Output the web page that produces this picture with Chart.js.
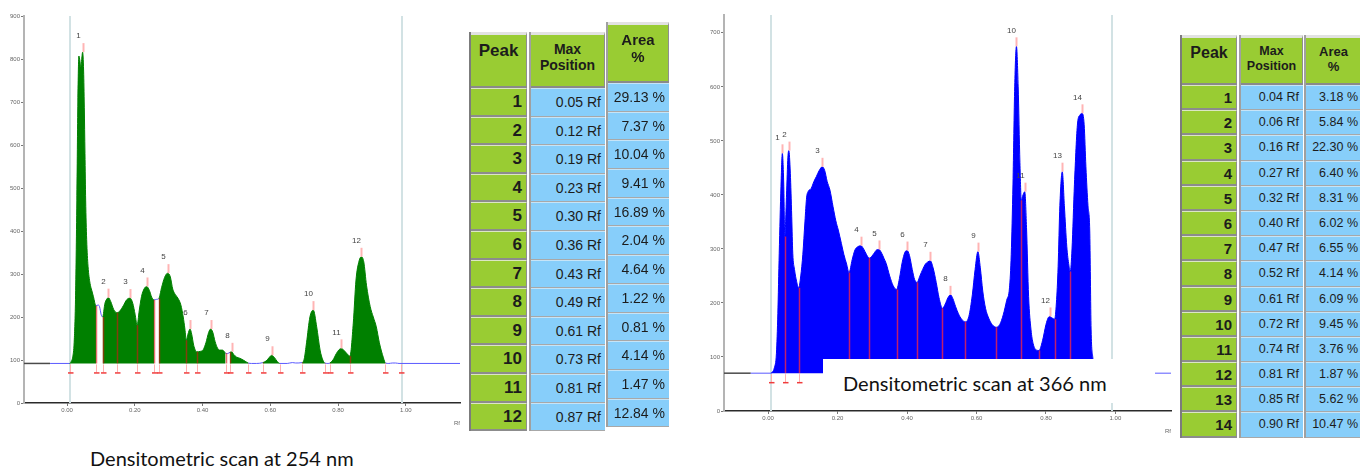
<!DOCTYPE html>
<html lang="en">
<head>
<meta charset="UTF-8">
<title>Densitometric scans</title>
<script src="https://cdn.jsdelivr.net/npm/chart.js"></script>
<style>
    body { margin: 0; width: 1360px; height: 468px; overflow: hidden; background: #fff; position: relative; }
    canvas { position: absolute; }
    .col { position: absolute; font-family: "Liberation Sans", Arial, sans-serif; color: #1c1c1c; }
    .col div { box-sizing: border-box; overflow: hidden; white-space: nowrap; }
    .hd { background: #99cc33; font-weight: bold; text-align: center; border-top: 3px solid #e2e2e2;
          border-bottom: 2px solid #8a8a8a; border-right: 1px solid #8f8f8f; }
    .g { background: #99cc33; font-weight: bold; text-align: right; padding-right: 4px;
         border-top: 1px solid #dbe6c4; border-bottom: 2px solid #8c8c8c; border-right: 1px solid #8f8f8f; }
    .b { background: #87cefa; text-align: right; padding-right: 4px;
         border-top: 1px solid #c6e4f7; border-bottom: 1px solid #a8a8a8; }
    .peak { border-left: 2px solid #7c7c7c; }
    .pos, .area { border-left: 2px solid #a0a0a0; }
    .caption { position: absolute; font-family: Lato, "Open Sans", sans-serif; font-size: 20px; color: #111; white-space: nowrap; }
    #box366 { position: absolute; left: 823px; top: 359px; width: 332px; height: 44px; background: #fff; }
</style>
</head>
<body>

<canvas id="scan254" width="470" height="427" style="left:0;top:0"></canvas>
<canvas id="scan366" width="480" height="435" style="left:700px;top:0"></canvas>
<div id="box366"></div>
<div class="caption" style="left:90px;top:446px">Densitometric scan at 254 nm</div>
<div class="caption" style="left:843px;top:371px">Densitometric scan at 366 nm</div>
<div id="tables"></div>

<script>
    // ---- scan at 254 nm ----
    const rf254 = [-0.05, 0.000, 0.008, 0.012, 0.017, 0.021, 0.025, 0.029, 0.032, 0.035, 0.038, 0.041, 0.044, 0.046,
        0.049, 0.051, 0.053, 0.055, 0.058, 0.062, 0.068, 0.073, 0.078, 0.0855, 0.092, 0.096, 0.101, 0.105, 0.112,
        0.116, 0.122, 0.129, 0.138, 0.147, 0.156, 0.166, 0.176, 0.186, 0.194, 0.201, 0.207, 0.213, 0.220, 0.228,
        0.235, 0.243, 0.250, 0.257, 0.264, 0.271, 0.279, 0.288, 0.297, 0.305, 0.312, 0.319, 0.328, 0.336, 0.343,
        0.348, 0.352, 0.357, 0.363, 0.368, 0.374, 0.383, 0.393, 0.402, 0.410, 0.418, 0.424, 0.430, 0.437, 0.444,
        0.451, 0.459, 0.468, 0.474, 0.481, 0.486, 0.492, 0.500, 0.510, 0.520, 0.528, 0.535, 0.545, 0.560, 0.578,
        0.588, 0.596, 0.604, 0.612, 0.620, 0.628, 0.650, 0.665, 0.675, 0.694, 0.700, 0.707, 0.717, 0.727, 0.737,
        0.747, 0.755, 0.761, 0.770, 0.776, 0.785, 0.795, 0.803, 0.810, 0.818, 0.826, 0.835, 0.845, 0.853, 0.862,
        0.869, 0.876, 0.884, 0.895, 0.904, 0.913, 0.922, 0.934, 0.940, 0.950, 0.960, 0.970, 0.980, 1.160];
    const au254 = [92, 92, 92, 96, 108, 140, 240, 470, 700, 807, 796, 781, 805, 816,
        772, 688, 580, 472, 380, 318, 278, 262, 247, 226, 228, 224, 205, 200, 232,
        240, 245, 236, 217, 210, 214, 226, 240, 244, 232, 206, 181, 214, 248, 266,
        271, 262, 246, 240, 241, 243, 268, 292, 302, 293, 265, 253, 243, 228, 200,
        172, 146, 160, 172, 160, 134, 119, 120, 124, 140, 164, 172, 165, 143, 128,
        123, 123, 116, 115, 118, 119, 113, 107, 104, 100, 96, 93, 92, 92, 94,
        98, 105, 111, 106, 97, 92, 92, 94, 93, 94, 102, 140, 200, 216, 177,
        123, 100, 93, 92, 93, 100, 115, 124, 127, 122, 115, 109, 186, 286, 330,
        340, 328, 274, 224, 200, 177, 140, 105, 93, 92, 93, 93, 92, 92];
    const base254 = 92;
    const fill254 = [[0.008, 0.0855], [0.105, 0.257], [0.271, 0.468], [0.481, 0.535], [0.578, 0.628], [0.694, 0.761], [0.776, 0.940]];
    const bound254 = [0.0855, 0.105, 0.147, 0.207, 0.257, 0.271, 0.352, 0.383, 0.468, 0.481, 0.535, 0.578, 0.628, 0.694, 0.761, 0.776, 0.835, 0.940];
    const boundTop254 = [226, 200, 210, 181, 240, 243, 146, 119, 116, 118, 93, 94, 92, 94, 93, 93, 109, 93];
    const marks254 = [0.009, ...bound254, 0.987];
    const peakRf254 = [0.046, 0.122, 0.186, 0.235, 0.297, 0.363, 0.424, 0.486, 0.604, 0.727, 0.810, 0.869];
    const peakTop254 = [816, 245, 244, 271, 302, 172, 172, 119, 111, 216, 127, 340];
    const yTicks254 = [0, 100, 200, 300, 400, 500, 600, 700, 800, 900];

    const peakNo254 = [1, 2, 3, 4, 5, 6, 7, 8, 9, 10, 11, 12];
    const maxPos254 = [0.05, 0.12, 0.19, 0.23, 0.30, 0.36, 0.43, 0.49, 0.61, 0.73, 0.81, 0.87];
    const area254 = [29.13, 7.37, 10.04, 9.41, 16.89, 2.04, 4.64, 1.22, 0.81, 4.14, 1.47, 12.84];

    // ---- scan at 366 nm ----
    const rf366 = [-0.05, 0.008, 0.012, 0.018, 0.024, 0.028, 0.032, 0.037, 0.041, 0.045, 0.048, 0.053, 0.057, 0.0596,
        0.064, 0.068, 0.071, 0.076, 0.082, 0.088, 0.094, 0.100, 0.106, 0.111, 0.115, 0.124, 0.132, 0.139, 0.147,
        0.156, 0.163, 0.170, 0.178, 0.187, 0.195, 0.202, 0.211, 0.218, 0.226, 0.233, 0.242, 0.250, 0.258, 0.267,
        0.275, 0.283, 0.291, 0.298, 0.305, 0.312, 0.319, 0.327, 0.334, 0.340, 0.350, 0.360, 0.370, 0.378, 0.386,
        0.394, 0.400, 0.407, 0.415, 0.422, 0.429, 0.437, 0.445, 0.453, 0.460, 0.467, 0.475, 0.484, 0.492, 0.502,
        0.510, 0.518, 0.525, 0.532, 0.540, 0.548, 0.557, 0.568, 0.578, 0.588, 0.596, 0.604, 0.611, 0.618, 0.626,
        0.635, 0.645, 0.657, 0.667, 0.677, 0.687, 0.695, 0.700, 0.705, 0.710, 0.715, 0.720, 0.725, 0.729, 0.734,
        0.739, 0.744, 0.750, 0.757, 0.763, 0.770, 0.780, 0.790, 0.800, 0.806, 0.811, 0.818, 0.825, 0.830, 0.835,
        0.840, 0.847, 0.853, 0.860, 0.866, 0.870, 0.875, 0.882, 0.891, 0.898, 0.904, 0.910, 0.915, 0.921, 0.926,
        0.930, 0.935, 0.940, 0.950, 1.160];
    const au366 = [70, 70, 72, 80, 107, 180, 292, 415, 477, 420, 323, 400, 470, 482,
        440, 360, 292, 262, 240, 228, 250, 290, 350, 396, 406, 412, 425, 434, 445,
        452, 445, 425, 409, 378, 352, 335, 310, 290, 272, 256, 280, 298, 304, 306,
        300, 290, 283, 286, 292, 298, 299, 292, 282, 273, 250, 232, 225, 245, 275,
        294, 297, 288, 262, 243, 238, 250, 262, 272, 276, 278, 265, 238, 210, 190,
        198, 210, 215, 208, 193, 180, 170, 165, 175, 215, 262, 295, 265, 222, 190,
        172, 160, 155, 160, 178, 205, 228, 290, 420, 600, 675, 600, 460, 390, 400,
        406, 340, 212, 150, 125, 114, 112, 130, 160, 172, 175, 172, 170, 200, 267,
        380, 443, 380, 304, 270, 258, 300, 420, 533, 548, 551, 530, 452, 380, 335,
        150, 98, 72, 70, 70];
    const base366 = 70;
    const fill366 = [[0.008, 0.940]];
    const bound366 = [0.048, 0.088, 0.233, 0.291, 0.370, 0.429, 0.502, 0.568, 0.657, 0.729, 0.780, 0.825, 0.870];
    const boundTop366 = [323, 228, 256, 283, 225, 238, 190, 165, 155, 390, 112, 170, 258];
    const marks366 = [0.008, ...bound366, 0.940, 0.990];
    const peakRf366 = [0.041, 0.0596, 0.156, 0.267, 0.319, 0.400, 0.467, 0.525, 0.604, 0.715, 0.739, 0.811, 0.847, 0.904];
    const peakTop366 = [477, 482, 452, 306, 299, 297, 278, 215, 295, 675, 406, 175, 443, 551];
    const yTicks366 = [0, 100, 200, 300, 400, 500, 600, 700];

    const peakNo366 = [1, 2, 3, 4, 5, 6, 7, 8, 9, 10, 11, 12, 13, 14];
    const maxPos366 = [0.04, 0.06, 0.16, 0.27, 0.32, 0.40, 0.47, 0.52, 0.61, 0.72, 0.74, 0.81, 0.85, 0.90];
    const area366 = [3.18, 5.84, 22.30, 6.40, 8.31, 6.02, 6.55, 4.14, 6.09, 9.45, 3.76, 1.87, 5.62, 10.47];

    const xTicks = [0, 0.2, 0.4, 0.6, 0.8, 1.0];
    const frameRf = [0.009, 0.99];

    // draws the track limits, peak boundaries, boundary markers and peak numbers
    const scanMarks = {
        id: 'scanMarks',
        beforeDatasetsDraw(chart, args, o) {
            const {ctx, chartArea: a, scales: {x}} = chart;
            ctx.save();
            ctx.strokeStyle = '#d2e2e4';
            ctx.lineWidth = 2;
            o.frame.forEach(v => {
                const px = Math.round(x.getPixelForValue(v));
                ctx.beginPath(); ctx.moveTo(px, a.top); ctx.lineTo(px, a.bottom); ctx.stroke();
            });
            ctx.restore();
        },
        afterDatasetsDraw(chart, args, o) {
            const {ctx, scales: {x, y}} = chart;
            const y0 = y.getPixelForValue(o.baseline);
            ctx.save();
            ctx.strokeStyle = o.boundColor;
            ctx.lineWidth = 1.5;
            o.bounds.forEach((v, i) => {
                const px = Math.round(x.getPixelForValue(v)) + 0.5;
                ctx.beginPath(); ctx.moveTo(px, y0); ctx.lineTo(px, y.getPixelForValue(o.boundTops[i])); ctx.stroke();
            });
            o.marks.forEach(v => {
                const px = Math.round(x.getPixelForValue(v)) + 0.5;
                ctx.strokeStyle = '#ffb0b0'; ctx.lineWidth = 1;
                ctx.beginPath(); ctx.moveTo(px, y0 + 1); ctx.lineTo(px, y0 + 9); ctx.stroke();
                ctx.strokeStyle = '#f03c3c'; ctx.lineWidth = 1.5;
                ctx.beginPath(); ctx.moveTo(px - 2.5, y0 + 9.5); ctx.lineTo(px + 3, y0 + 9.5); ctx.stroke();
            });
            ctx.font = '8px "Liberation Sans", Arial';
            ctx.textAlign = 'center';
            ctx.textBaseline = 'middle';
            o.peaks.forEach((v, i) => {
                const px = Math.round(x.getPixelForValue(v)) + 0.5;
                const py = y.getPixelForValue(o.peakTops[i]);
                ctx.strokeStyle = '#ffb4b4'; ctx.lineWidth = 2;
                ctx.beginPath(); ctx.moveTo(px, py); ctx.lineTo(px, py - 9); ctx.stroke();
                ctx.fillStyle = '#444';
                ctx.fillText(String(i + 1), px - 5, py - 16);
            });
            ctx.restore();
        }
    };

    const inRange = (ranges, a, b) => ranges.some(r => a >= r[0] - 1e-9 && b <= r[1] + 1e-9);

    function makeScan(id, rf, au, base, ranges, fillColor, yMax, yTicks, marks, pad) {
        const profile = rf.map((v, i) => ({x: v, y: au[i]}));
        return new Chart(document.getElementById(id), {
            type: 'line',
            data: {
                datasets: [{
                    data: profile,
                    borderWidth: 1,
                    borderColor: '#5a5aff',
                    backgroundColor: fillColor,
                    fill: {value: base},
                    pointRadius: 0,
                    cubicInterpolationMode: 'monotone',
                    segment: {
                        borderColor: c => inRange(ranges, c.p0.parsed.x, c.p1.parsed.x) ? fillColor : '#5a5aff',
                        backgroundColor: c => inRange(ranges, c.p0.parsed.x, c.p1.parsed.x) ? fillColor : 'rgba(0,0,0,0)'
                    }
                }, {
                    data: [{x: -0.127, y: base}, {x: -0.05, y: base}],
                    borderWidth: 1.5,
                    borderColor: '#4a4a4a',
                    pointRadius: 0,
                    fill: false
                }]
            },
            options: {
                responsive: false,
                animation: false,
                layout: {padding: pad},
                plugins: {
                    legend: {display: false},
                    tooltip: {enabled: false},
                    scanMarks: marks
                },
                scales: {
                    x: {
                        type: 'linear', min: -0.127, max: 1.16,
                        afterBuildTicks: s => { s.ticks = xTicks.map(v => ({value: v})); },
                        afterFit: s => { s.height = 24; },
                        ticks: {callback: v => v.toFixed(2), font: {size: 6}, color: '#666', maxRotation: 0, autoSkip: false, padding: 1},
                        grid: {drawOnChartArea: false, tickLength: 3, color: '#777'},
                        border: {color: '#2a2a2a', width: 1.5},
                        title: {display: true, text: 'Rf', align: 'end', font: {size: 6}, color: '#666', padding: 0}
                    },
                    y: {
                        min: 0, max: yMax,
                        afterBuildTicks: s => { s.ticks = yTicks.map(v => ({value: v})); },
                        afterFit: s => { s.width = 24; },
                        ticks: {font: {size: 6}, color: '#666', padding: 1},
                        grid: {drawOnChartArea: false, tickLength: 3, color: '#777'},
                        border: {color: '#b4b4b4', width: 2}
                    }
                }
            },
            plugins: [scanMarks]
        });
    }

    makeScan('scan254', rf254, au254, base254, fill254, '#008000', 900, yTicks254, {
        baseline: base254, bounds: bound254, boundTops: boundTop254, marks: marks254,
        peaks: peakRf254, peakTops: peakTop254, frame: frameRf, boundColor: 'rgba(215,20,20,0.6)'
    }, {left: 0, top: 16, right: 10, bottom: 0});

    makeScan('scan366', rf366, au366, base366, fill366, '#0000ff', 733, yTicks366, {
        baseline: base366, bounds: bound366, boundTops: boundTop366, marks: marks366,
        peaks: peakRf366, peakTops: peakTop366, frame: [0.008, 0.99], boundColor: 'rgba(255,40,60,0.75)'
    }, {left: 0, top: 15, right: 9, bottom: 0});

    // ---- result tables ----
    function column(cls, left, top, width, head, headH, headSize, cells, rowH, cellCls, cellSize) {
        const col = document.createElement('div');
        col.className = 'col ' + cls;
        col.style.cssText = `left:${left}px;top:${top}px;width:${width}px`;
        let html = `<div class="hd" style="height:${headH}px;font-size:${headSize}px;line-height:${headSize + 2}px;padding-top:6px">${head}</div>`;
        cells.forEach(t => {
            html += `<div class="${cellCls}" style="height:${rowH}px;line-height:${rowH - 2}px;font-size:${cellSize}px">${t}</div>`;
        });
        col.innerHTML = html;
        document.getElementById('tables').appendChild(col);
    }

    const fmtPos = v => v.toFixed(2) + ' Rf';
    const fmtArea = v => v.toFixed(2) + ' %';

    column('peak', 469, 32, 56, 'Peak', 56, 17, peakNo254, 28.6, 'g', 17);
    column('pos', 529, 32, 74, 'Max<br>Position', 56, 14, maxPos254.map(fmtPos), 28.6, 'b', 14);
    column('area', 606, 22, 61, 'Area<br>%', 61, 15, area254.map(fmtArea), 28.7, 'b', 14);

    column('peak', 1180, 35, 55, 'Peak', 50, 16, peakNo366, 25.2, 'g', 15);
    column('pos', 1239, 35, 62, 'Max<br>Position', 50, 12.5, maxPos366.map(fmtPos), 25.2, 'b', 12.5);
    column('area', 1304, 35, 56, 'Area<br>%', 50, 13, area366.map(fmtArea), 25.2, 'b', 12.5);
</script>
</body>
</html>
